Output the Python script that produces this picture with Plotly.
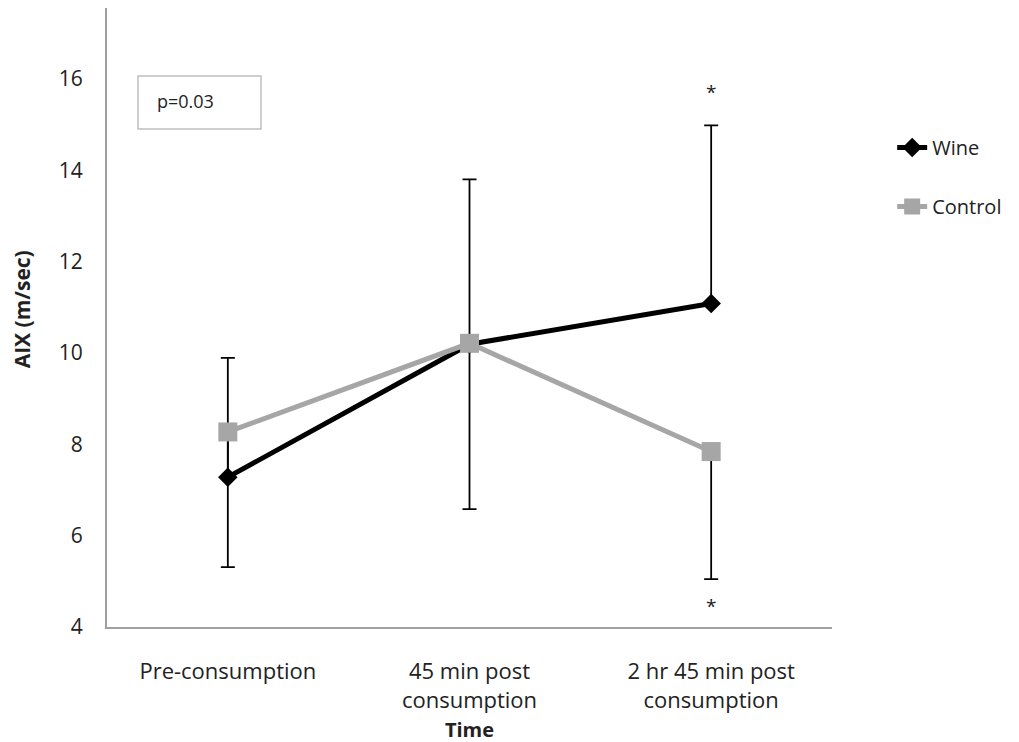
import plotly.graph_objects as go

categories = ["Pre-consumption", "45 min post<br>consumption", "2 hr 45 min post<br>consumption"]
wine = [7.28, 10.19, 11.08]
control = [8.27, 10.21, 7.84]
wine_err_plus = [2.61, 3.61, 3.90]
control_err_minus = [2.96, 3.63, 2.79]
star_y = [15.72, 4.45]
p_text = "p=0.03"

FONT = "Open Sans"
fig = go.Figure()
fig.add_trace(go.Scatter(
    x=categories, y=wine, name="Wine", mode="lines+markers",
    line=dict(color="black", width=5),
    marker=dict(symbol="diamond", size=15, color="black"),
    error_y=dict(type="data", symmetric=False, array=wine_err_plus,
                 arrayminus=[0, 0, 0], color="black", thickness=1.8, width=7),
    legendgroup="w",
))
fig.add_trace(go.Scatter(
    x=categories, y=control, name="Control", mode="lines+markers",
    line=dict(color="#a6a6a6", width=5),
    marker=dict(symbol="square", size=19, color="#a6a6a6"),
    error_y=dict(type="data", symmetric=False, array=[0, 0, 0],
                 arrayminus=control_err_minus, color="black", thickness=1.8, width=7),
    legendgroup="c",
))

for yv in star_y:
    fig.add_annotation(x=categories[2], y=yv, text="*", showarrow=False,
                       font=dict(family=FONT, size=19, color="#222"))

fig.add_shape(type="rect", xref="paper", yref="paper",
              x0=(138-107)/725, x1=(261-107)/725,
              y0=(627-129)/619, y1=(627-76)/619,
              line=dict(color="#bfbfbf", width=1.5), fillcolor="white")
fig.add_annotation(xref="paper", yref="paper", x=(155-107)/725, y=(627-101)/619,
                   xanchor="left", yanchor="middle", text=p_text, showarrow=False,
                   font=dict(family=FONT, size=18, color="#222"))

fig.update_layout(
    width=1019, height=742,
    margin=dict(l=99, r=195, t=0, b=123, autoexpand=False),
    paper_bgcolor="white", plot_bgcolor="white",
    font=dict(family=FONT, size=21, color="#222"),
    showlegend=True,
    legend=dict(x=1.083, y=0.806, xanchor="left", yanchor="top",
                font=dict(family=FONT, size=20, color="#222"),
                tracegroupgap=30, traceorder="grouped",
                bgcolor="rgba(0,0,0,0)"),
    xaxis=dict(range=[-0.5, 2.5], showline=True, linecolor="#a0a0a0", linewidth=2,
               showgrid=False, zeroline=False, ticks="", automargin=False,
               ticklabelstandoff=24,
               tickfont=dict(family=FONT, size=22, color="#222"),
               title=dict(text="<b>Time</b>", font=dict(family=FONT, size=20, color="#222"),
                          standoff=10)),
    yaxis=dict(range=[4, 17.55], showline=True, linecolor="#a0a0a0", linewidth=2,
               showgrid=False, zeroline=False, ticks="", tickvals=[4, 6, 8, 10, 12, 14, 16],
               ticklabelstandoff=18, automargin=False,
               tickfont=dict(family=FONT, size=21, color="#222"),
               title=dict(text="&nbsp;&nbsp;&nbsp;<b>AIX (m/sec)</b>",
                          font=dict(family=FONT, size=21, color="#222"),
                          standoff=24)),
)

fig.write_html("out.html")
